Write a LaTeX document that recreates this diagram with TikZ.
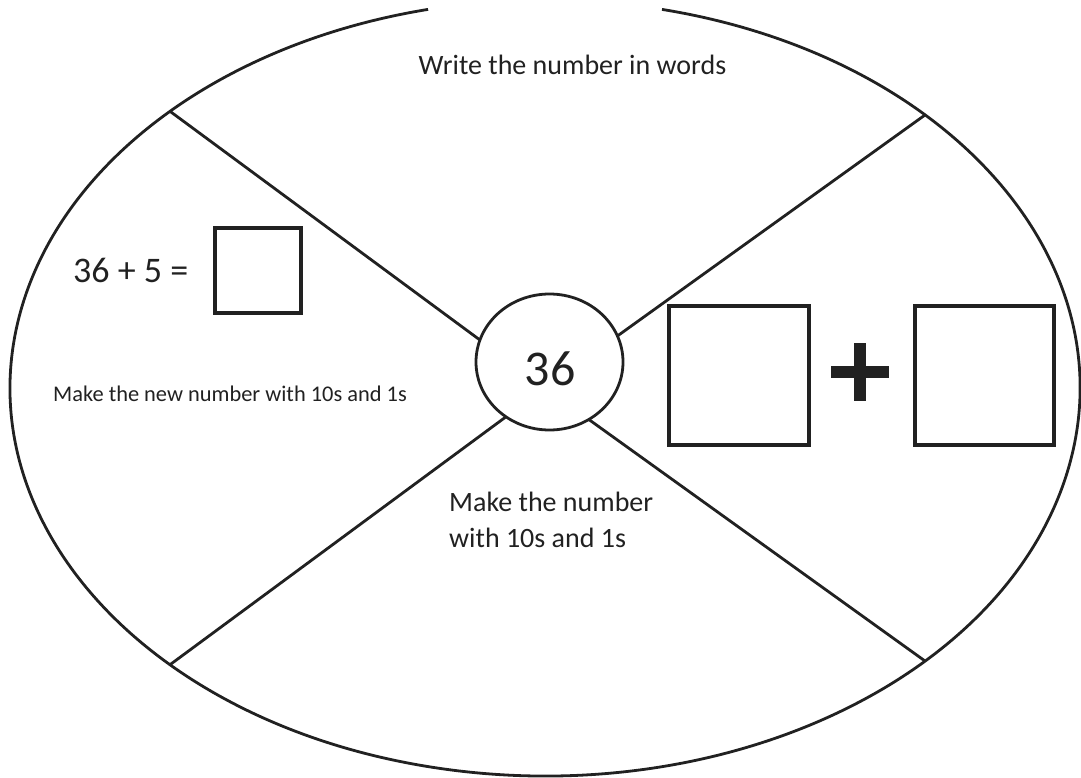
\documentclass[tikz,border=0pt]{standalone}
\usepackage{fontspec}
\setmainfont{Carlito}
\usetikzlibrary{shapes.geometric}
\definecolor{ink}{gray}{0.13}
\begin{document}
\begin{tikzpicture}[x=1pt,y=-1pt,
  outline/.style={draw=ink, line width=2.8pt},
  answerbox/.style={draw=ink, line width=3.2pt, fill=white, inner sep=0pt},
  label/.style={text=ink, inner sep=0pt, align=left}]
\useasboundingbox (0,0) rectangle (1081,778);
% centre of the wheel and ends of the spokes
\coordinate (c) at (545,388);
\coordinate (ul) at (170,111.3);
\coordinate (ur) at (925,115);
\coordinate (ll) at (170,664.7);
\coordinate (lr) at (925,661);
\coordinate (gapr) at (662,9.4);
% outer ellipse, open at the top
\draw[outline] (gapr) arc[start angle=282.63, end angle=617.37, x radius=535, y radius=388];
% spokes
\draw[outline] (ul) -- (c);
\draw[outline] (ur) -- (c);
\draw[outline] (ll) -- (c);
\draw[outline] (lr) -- (c);
% centre number
\node[ellipse, outline, fill=white, minimum width=147pt, minimum height=136pt, inner sep=0pt] (hub) at (549.5,362) {};
\node[label, font=\fontsize{50}{58}\selectfont, anchor=base] (num) at (550,385) {36};
% top sector
\node[label, font=\fontsize{28}{34}\selectfont, anchor=base] (words) at (572.5,75) {Write the number in words};
% left sector
\node[label, font=\fontsize{36}{43}\selectfont, anchor=base west] (sum) at (73,282) {36 + 5 =};
\node[answerbox, minimum width=86pt, minimum height=85pt] (sumbox) at (258,270.5) {};
\node[label, font=\fontsize{22.4}{27}\selectfont, anchor=base west] (newnum) at (53,401) {Make the new number with 10s and 1s};
% bottom sector
\node[label, font=\fontsize{28}{36}\selectfont, anchor=north west] (make) at (449,492) {Make the number\\with 10s and 1s};
% right sector
\node[answerbox, minimum width=140pt, minimum height=139pt] (tens) at (739,375.5) {};
\node[answerbox, minimum width=139pt, minimum height=139pt] (ones) at (984.5,375.5) {};
\node[fill=ink, minimum width=58pt, minimum height=12pt, inner sep=0pt] (plush) at (860,372) {};
\node[fill=ink, minimum width=12.5pt, minimum height=58pt, inner sep=0pt] (plusv) at (860,372) {};
\end{tikzpicture}
\end{document}
